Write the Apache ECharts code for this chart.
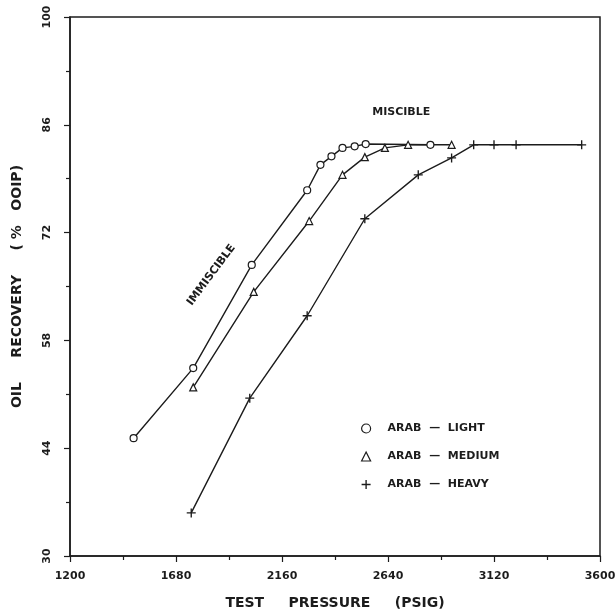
<!DOCTYPE html>
<html lang="en">
<head>
<meta charset="UTF-8">
<title>oil recovery vs test pressure</title>
<script src="https://cdn.jsdelivr.net/npm/echarts@6.0.0/dist/echarts.min.js"></script>
<style>
  body { margin: 0; padding: 0; background: #fff; }
  #main { width: 615px; height: 611px; }
</style>
</head>
<body>
<div id="main"></div>
<script>
  // values: [pressure psig, recovery % OOIP]
  var lightPts = [[1488, 45.3], [1758, 54.4], [2023, 67.8], [2274, 77.5], [2334, 80.8],
                  [2384, 81.9], [2434, 83.0], [2489, 83.2], [2539, 83.5], [2832, 83.4]];
  var mediumPts = [[1758, 51.9], [2032, 64.3], [2283, 73.5], [2434, 79.5], [2535, 81.8],
                   [2626, 83.0], [2731, 83.4], [2928, 83.4]];
  var heavyPts = [[1749, 35.6], [2014, 50.5], [2274, 61.2], [2535, 73.8], [2777, 79.5],
                  [2928, 81.7], [3028, 83.4], [3120, 83.4], [3220, 83.4], [3517, 83.4]];
  var seriesNames = ['ARAB  —  LIGHT', 'ARAB  —  MEDIUM', 'ARAB  —  HEAVY'];

  var ink = '#1c1c1c';
  var plus = 'path://M4.25,0H5.75V4.25H10V5.75H5.75V10H4.25V5.75H0V4.25H4.25Z';
  var fontBold = { fontFamily: 'DejaVu Sans', fontWeight: 'bold', color: ink };

  var chart = echarts.init(document.getElementById('main'));

  function lineSeries(name, data, symbol, size, fill) {
    return {
      name: name,
      type: 'line',
      data: data,
      symbol: symbol,
      symbolSize: size,
      showAllSymbol: true,
      lineStyle: { color: ink, width: 1.4 },
      itemStyle: { color: fill, borderColor: ink, borderWidth: fill === ink ? 0 : 1.2 },
      emphasis: { disabled: true },
      animation: false,
      z: fill === ink ? 3 : 4
    };
  }

  var option = {
    backgroundColor: '#fff',
    animation: false,
    grid: { left: 70, right: 15, top: 17, bottom: 55, outerBoundsMode: 'none', containLabel: false,
            show: true, borderColor: ink, borderWidth: 1.5 },
    xAxis: {
      type: 'value', min: 1200, max: 3600, interval: 480,
      name: 'TEST     PRESSURE     (PSIG)', nameLocation: 'middle', nameGap: 40,
      nameTextStyle: Object.assign({ fontSize: 14 }, fontBold),
      axisLine: { lineStyle: { color: ink, width: 1.5 } },
      axisTick: { show: true, length: 6, lineStyle: { color: ink, width: 1.2 } },
      minorTick: { show: true, splitNumber: 2, length: 4, lineStyle: { color: ink, width: 1.2 } },
      axisLabel: Object.assign({ fontSize: 11, margin: 15, formatter: function (v) { return String(v); } }, fontBold),
      splitLine: { show: false }
    },
    yAxis: {
      type: 'value', min: 30, max: 100, interval: 14,
      name: 'OIL     RECOVERY     ( %   OOIP)', nameLocation: 'middle', nameGap: 46, nameRotate: 90,
      nameTextStyle: Object.assign({ fontSize: 14 }, fontBold),
      axisLine: { lineStyle: { color: ink, width: 1.5 } },
      axisTick: { show: true, length: 6, lineStyle: { color: ink, width: 1.2 } },
      minorTick: { show: true, splitNumber: 2, length: 4, lineStyle: { color: ink, width: 1.2 } },
      axisLabel: Object.assign({ fontSize: 11, margin: 17, rotate: 90 }, fontBold),
      splitLine: { show: false }
    },
    legend: {
      orient: 'vertical', left: 356, top: 418, itemGap: 17, itemWidth: 9, itemHeight: 9,
      textStyle: Object.assign({ fontSize: 11, padding: [0, 0, 0, 12] }, fontBold),
      selectedMode: false,
      data: [
        { name: seriesNames[0], icon: 'circle', itemStyle: { color: '#fff', borderColor: ink, borderWidth: 1.2 } },
        { name: seriesNames[1], icon: 'triangle', itemStyle: { color: '#fff', borderColor: ink, borderWidth: 1.2 } },
        { name: seriesNames[2], icon: plus, itemStyle: { color: ink, borderWidth: 0 } }
      ]
    },
    series: [
      lineSeries(seriesNames[0], lightPts, 'circle', 7, '#fff'),
      lineSeries(seriesNames[1], mediumPts, 'triangle', 7, '#fff'),
      lineSeries(seriesNames[2], heavyPts, plus, 9, ink)
    ]
  };
  chart.setOption(option);

  // region annotations anchored in data coordinates
  var misc = chart.convertToPixel({ gridIndex: 0 }, [2700, 87.6]);
  var immisc = chart.convertToPixel({ gridIndex: 0 }, [1840, 66.5]);
  chart.setOption({
    graphic: [
      { type: 'text', x: misc[0], y: misc[1],
        style: { text: 'MISCIBLE', fontSize: 11, fontFamily: 'DejaVu Sans', fontWeight: 'bold', align: 'center', verticalAlign: 'middle', fill: ink } },
      { type: 'text', x: immisc[0], y: immisc[1], rotation: 0.93,
        style: { text: 'IMMISCIBLE', fontSize: 11, fontFamily: 'DejaVu Sans', fontWeight: 'bold', align: 'center', verticalAlign: 'middle', fill: ink } }
    ]
  });
</script>
</body>
</html>
